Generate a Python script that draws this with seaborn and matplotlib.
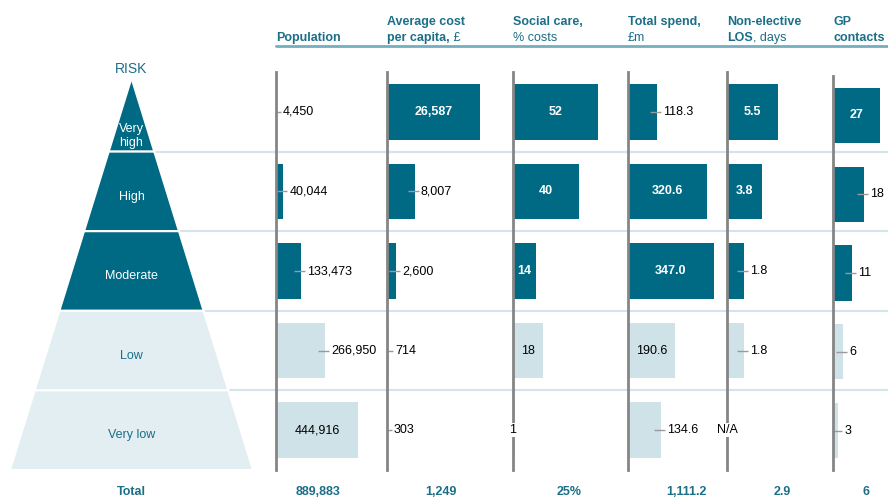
"""
Risk pyramid
------------
Population segmented by risk level, with six small bar columns showing
population, cost per capita, social care share, total spend,
non-elective length of stay and GP contacts for each segment.
"""

import numpy as np
import pandas as pd
import matplotlib
matplotlib.use("Agg")
import matplotlib.pyplot as plt
from matplotlib.patches import Polygon
from matplotlib.lines import Line2D
import seaborn as sns


# --- data -----------------------------------------------------------------
RISK_LEVELS = ["Very high", "High", "Moderate", "Low", "Very low"]
RISK_LABELS = ["Very\nhigh", "High", "Moderate", "Low", "Very low"]

POPULATION = [4450, 40044, 133473, 266950, 444916]
AVG_COST = [26587, 8007, 2600, 714, 303]
SOCIAL_CARE_PCT = [52, 40, 14, 18, 1]
TOTAL_SPEND = [118.3, 320.6, 347.0, 190.6, 134.6]
NON_ELECTIVE_LOS = [5.5, 3.8, 1.8, 1.8, np.nan]
GP_CONTACTS = [27, 18, 11, 6, 3]

TOTALS = ["889,883", "1,249", "25%", "1,111.2", "2.9", "6"]

# header lines: (bold part, normal part)
HEADERS = [
    [("", ""), ("Population", "")],
    [("Average cost", ""), ("per capita,", " £")],
    [("Social care,", ""), ("", "% costs")],
    [("Total spend,", ""), ("", "£m")],
    [("Non-elective", ""), ("LOS", ", days")],
    [("GP", ""), ("contacts", "")],
]

# --- style ----------------------------------------------------------------
W, H = 888, 497
DARK = "#006a84"
LIGHT_BAR = "#cfe2e8"
LIGHT_PYR = "#e2eef1"
TEAL_TEXT = "#1b6f87"
ROW_LINE = "#d3e4ea"
UNDERLINE = "#74aebf"
AXIS_GREY = "#858585"
TICK_GREY = "#9a9a9a"
FS = 9

# column layout in pixels: axis x, width, top; plus units per pixel
COL_X = [276, 387, 513, 628, 727, 833]
COL_W = [106, 121, 110, 94, 101, 55]
COL_TOP = [72, 72, 72, 72, 72, 76]
COL_BOTTOM = 470
UNITS_PER_PX = [5430, 287, 0.61, 4.05, 0.108, 0.575]
FORMATS = ["{:,.0f}", "{:,.0f}", "{:.0f}", "{:.1f}", "{:.1f}", "{:.0f}"]
INSIDE = [{4}, {0}, {0, 1, 2, 3}, {1, 2, 3}, {0, 1}, {0}]
ON_AXIS = [set(), set(), {4}, set(), set(), set()]
TOTAL_DX = [42, 54, 56, 58, 55, 33]

ROW_TOP = 72
TOTAL_BASELINE = 495


def fx(px):
    return px / W


def fy(py):
    return 1 - py / H


def draw_pyramid(fig):
    ax = fig.add_axes([0, fy(COL_BOTTOM), 1, (COL_BOTTOM - ROW_TOP) / H])
    ax.set_xlim(0, W)
    ax.set_ylim(4.5, -0.5)
    ax.set_axis_off()

    row_px = (COL_BOTTOM - ROW_TOP) / len(RISK_LEVELS)
    apex = -0.5 + 6 / row_px
    cx = 131.5

    def half(y):
        return 0.31 * row_px * (y - apex)

    for i, name in enumerate(RISK_LEVELS):
        y0, y1 = max(i - 0.5, apex), i + 0.5
        pts = [(cx - half(y0), y0), (cx + half(y0), y0),
               (cx + half(y1), y1), (cx - half(y1), y1)]
        ax.add_patch(Polygon(pts, closed=True, facecolor=DARK if i < 3 else LIGHT_PYR,
                             edgecolor="white", linewidth=1.5, zorder=2))
        if i < 4:
            ax.plot([cx + half(y1), W], [y1, y1], color=ROW_LINE, lw=1.5, zorder=1)
        ty = 0.30 if i == 0 else i + 0.065
        ax.text(cx, ty, RISK_LABELS[i], ha="center", va="center", fontsize=FS,
                color="white" if i < 3 else TEAL_TEXT, linespacing=1.2, zorder=3)


def draw_column(fig, k, values):
    top = COL_TOP[k]
    ax = fig.add_axes([fx(COL_X[k]), fy(COL_BOTTOM), fx(COL_W[k]), (COL_BOTTOM - top) / H])
    ax.patch.set_alpha(0)

    df = pd.DataFrame({"risk": RISK_LEVELS, "value": values})
    palette = [DARK, DARK, DARK, LIGHT_BAR, LIGHT_BAR]
    sns.barplot(data=df, x="value", y="risk", hue="risk", order=RISK_LEVELS,
                hue_order=RISK_LEVELS, palette=palette, legend=False, orient="h",
                width=0.7, linewidth=0, saturation=1, errorbar=None, ax=ax)

    scale = UNITS_PER_PX[k]
    ax.set_xlim(0, COL_W[k] * scale)
    ax.set_ylim(4.5, -0.5)
    ax.set(xlabel="", ylabel="", xticks=[], yticks=[])
    for side in ["top", "right", "bottom"]:
        ax.spines[side].set_visible(False)
    ax.spines["left"].set_color(AXIS_GREY)
    ax.spines["left"].set_linewidth(2)
    ax.spines["left"].set_zorder(5)

    for i, v in enumerate(values):
        if np.isnan(v) or i in ON_AXIS[k]:
            lab = "N/A" if np.isnan(v) else FORMATS[k].format(v)
            ax.text(0, i, lab, ha="center", va="center", fontsize=FS, color="black",
                    bbox=dict(fc="white", ec="none", pad=0.5), zorder=6)
            continue
        lab = FORMATS[k].format(v)
        if i in INSIDE[k]:
            dark = i < 3
            ax.text(v / 2, i, lab, ha="center", va="center", fontsize=FS,
                    color="white" if dark else "black",
                    weight="bold" if dark else "normal")
        else:
            ax.plot([max(v - 7 * scale, 0), v + 4 * scale], [i, i],
                    color=TICK_GREY, lw=1, solid_capstyle="butt")
            ax.text(v + 6 * scale, i, lab, ha="left", va="center", fontsize=FS,
                    color="black")
    return ax


def draw_header(fig, helper_ax, k):
    for line, y_px in zip(HEADERS[k], [25, 41]):
        bold, normal = line
        if bold:
            t = fig.text(fx(COL_X[k]), fy(y_px), bold, weight="bold", fontsize=FS,
                         color=TEAL_TEXT, ha="left", va="baseline")
            if normal:
                helper_ax.annotate(normal, xy=(1, 0), xycoords=t, ha="left", va="bottom",
                                   fontsize=FS, color=TEAL_TEXT)
        elif normal:
            fig.text(fx(COL_X[k]), fy(y_px), normal, fontsize=FS, color=TEAL_TEXT,
                     ha="left", va="baseline")


def main():
    sns.set_style("white")
    plt.rcParams["font.family"] = ["Liberation Sans", "DejaVu Sans"]

    fig = plt.figure(figsize=(W / 100, H / 100), dpi=100)
    draw_pyramid(fig)
    helper = fig.axes[0]

    fig.text(fx(131.5), fy(73), "RISK", ha="center", va="baseline", fontsize=10,
             color=TEAL_TEXT)

    columns = [POPULATION, AVG_COST, SOCIAL_CARE_PCT, TOTAL_SPEND,
               NON_ELECTIVE_LOS, GP_CONTACTS]
    for k, values in enumerate(columns):
        draw_column(fig, k, np.array(values, dtype=float))
        draw_header(fig, helper, k)
        fig.text(fx(COL_X[k] + TOTAL_DX[k]), fy(TOTAL_BASELINE), TOTALS[k], ha="center",
                 va="baseline", fontsize=FS, weight="bold", color=TEAL_TEXT)

    fig.add_artist(Line2D([fx(276), 1], [fy(46), fy(46)], transform=fig.transFigure,
                          color=UNDERLINE, lw=2))
    fig.text(fx(131.5), fy(TOTAL_BASELINE), "Total", ha="center", va="baseline",
             fontsize=FS, weight="bold", color=TEAL_TEXT)

    fig.savefig("out.png", dpi=100)
    plt.close(fig)


if __name__ == "__main__":
    main()
